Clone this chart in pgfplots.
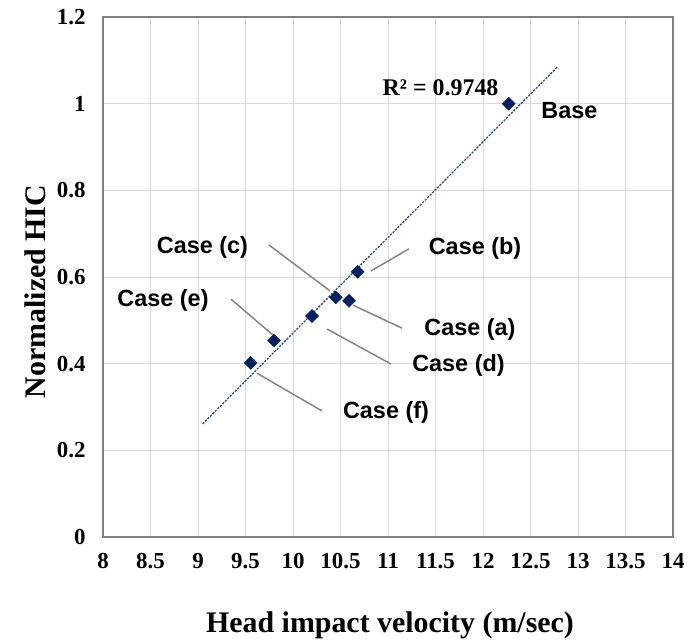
\documentclass[border=0pt]{standalone}
\usepackage{fontspec}
\setmainfont{Liberation Serif}
\newfontfamily\arialfont{Liberation Sans}
\usepackage{pgfplots}
\pgfplotsset{compat=1.18}

\definecolor{navy}{HTML}{002060}
\definecolor{trendblue}{HTML}{2E4C8E}
\definecolor{gridgray}{HTML}{D9D9D9}
\definecolor{framegray}{HTML}{7F7F7F}
\definecolor{leadergray}{HTML}{858585}

\begin{document}
\begin{tikzpicture}
\begin{axis}[
  at={(0,0)}, anchor=south west,
  scale only axis, width=570bp, height=520bp,
  xmin=8, xmax=14, ymin=0, ymax=1.2,
  xtick={8,8.5,9,9.5,10,10.5,11,11.5,12,12.5,13,13.5,14},
  ytick={0,0.2,0.4,0.6,0.8,1,1.2},
  grid=major,
  major grid style={gridgray, line width=1bp},
  axis line style={framegray, line width=1.5bp},
  major tick length=0pt,
  tick label style={font=\fontsize{23}{23}\selectfont\bfseries},
  /pgf/number format/assume math mode=true,
  yticklabel style={xshift=-14bp},
  xticklabel style={yshift=-13bp},
  xlabel={Head impact velocity (m/sec)},
  ylabel={Normalized HIC},
  label style={font=\fontsize{30}{30}\selectfont\bfseries},
  xlabel style={at={(axis description cs:0.5035,-0.169)}, anchor=center},
  ylabel style={at={(axis description cs:-0.119,0.472)}, anchor=center},
  clip=false,
]
% leader lines from labels to points
\addplot[leadergray, line width=1.5bp, no markers, forget plot] coordinates {(11.221,0.665) (10.821,0.614)};
\addplot[leadergray, line width=1.5bp, no markers, forget plot] coordinates {(9.747,0.674) (10.389,0.568)};
\addplot[leadergray, line width=1.5bp, no markers, forget plot] coordinates {(9.347,0.549) (9.789,0.466)};
\addplot[leadergray, line width=1.5bp, no markers, forget plot] coordinates {(9.621,0.378) (10.305,0.291)};
\addplot[leadergray, line width=1.5bp, no markers, forget plot] coordinates {(10.358,0.480) (11.032,0.399)};
\addplot[leadergray, line width=1.5bp, no markers, forget plot] coordinates {(10.632,0.535) (11.147,0.482)};

% linear trend line
\addplot[trendblue, line width=1.3bp, dash pattern=on 2.2bp off 1.3bp, no markers] coordinates {(9.05,0.261) (12.78,1.084)};

% simulation cases
\addplot[only marks, mark=square*, mark size=4.6bp, mark options={rotate=45, fill=navy, draw=navy}] coordinates {
  (12.27,1.000)
  (10.68,0.612)
  (10.59,0.545)
  (10.45,0.553)
  (10.20,0.510)
  (9.80,0.453)
  (9.555,0.402)
};

\node[font=\fontsize{24}{24}\selectfont\bfseries] at (axis cs:11.553,1.036) {R² = 0.9748};
\begin{scope}[every node/.style={font=\arialfont\fontsize{23.5}{23.5}\selectfont\bfseries}]
\node at (axis cs:12.91,0.985) {Base};
\node at (axis cs:11.916,0.665) {Case (b)};
\node at (axis cs:9.047,0.669) {Case (c)};
\node at (axis cs:8.632,0.547) {Case (e)};
\node at (axis cs:11.863,0.480) {Case (a)};
\node at (axis cs:11.742,0.397) {Case (d)};
\node at (axis cs:10.979,0.2885) {Case (f)};
\end{scope}
\end{axis}
\pgfresetboundingbox
\path ([xshift=-103bp,yshift=-106bp]current axis.south west) rectangle ([xshift=16bp,yshift=17bp]current axis.north east);
\end{tikzpicture}
\end{document}
